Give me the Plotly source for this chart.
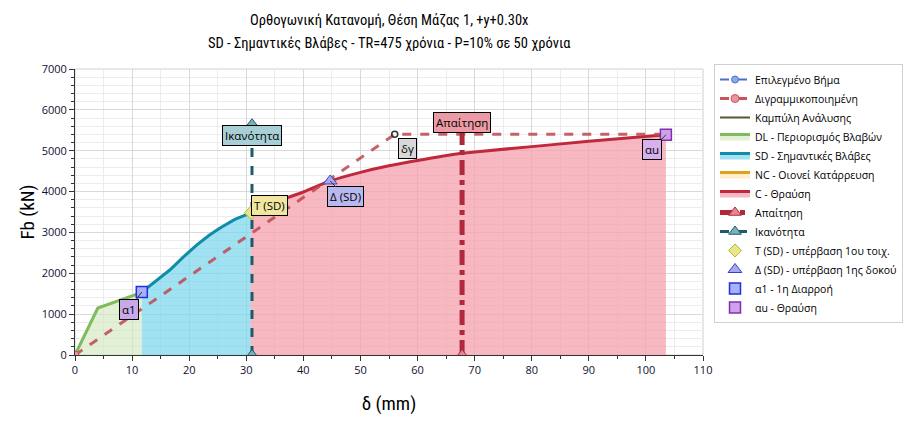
import plotly.graph_objects as go

# ---- data ----
dl_x = [0, 4.0, 10.5, 11.7]
dl_y = [0, 1150, 1470, 1540]
sd_x = [11.7, 14, 16.6, 19, 21.3, 23.5, 25.4, 28, 30.8]
sd_y = [1540, 1790, 2080, 2400, 2690, 2930, 3110, 3320, 3480]
c_x = [30.8, 35, 40, 44.7, 50, 55, 60, 67.4, 70, 80, 90, 103.5]
c_y = [3480, 3740, 3990, 4260, 4470, 4630, 4760, 4930, 4970, 5100, 5230, 5390]
bil_x = [0, 56.0, 103.5]
bil_y = [0, 5400, 5400]
cap_x = [31.0, 31.0]
cap_y = [0, 5650]
dem_x = [67.8, 67.8]
dem_y = [0, 5650]
t_pt = (30.8, 3480)
d_pt = (44.7, 4260)
a1_pt = (11.7, 1540)
au_pt = (103.5, 5390)
dy_pt = (56.0, 5400)

title_lines = ["Ορθογωνική Κατανομή, Θέση Μάζας 1, +y+0.30x",
               "SD - Σημαντικές Βλάβες - TR=475 χρόνια - P=10% σε 50 χρόνια"]

NARROW = "Roboto Condensed, DejaVu Sans Condensed, sans-serif"
FONT = "Open Sans"
fig = go.Figure()

fig.add_trace(go.Scatter(x=[None], y=[None], mode="lines+markers", name="Επιλεγμένο Βήμα",
                         line=dict(color="#4a6fd0", dash="dash", width=2),
                         marker=dict(symbol="circle", size=7, color="#8fa8ea", line=dict(color="#4a6fd0", width=1))))
fig.add_trace(go.Scatter(x=[None], y=[None], mode="lines+markers", name="Διγραμμικοποιημένη",
                         line=dict(color="#c8535d", dash="dash", width=3),
                         marker=dict(symbol="circle", size=8, color="#e9959b", line=dict(color="#c8535d", width=1))))
fig.add_trace(go.Scatter(x=[None], y=[None], mode="lines", name="Καμπύλη Ανάλυσης",
                         line=dict(color="#4e5a30", width=2)))
fig.add_trace(go.Scatter(x=dl_x, y=dl_y, mode="lines", name="DL - Περιορισμός Βλαβών", fill="tozeroy",
                         fillcolor="rgba(210,232,190,0.65)", line=dict(color="#7fbb5c", width=3)))
fig.add_trace(go.Scatter(x=sd_x, y=sd_y, mode="lines", name="SD - Σημαντικές Βλάβες", fill="tozeroy",
                         fillcolor="rgba(120,212,236,0.7)", line=dict(color="#0e8ca8", width=3)))
fig.add_trace(go.Scatter(x=[None], y=[None], mode="lines", name="NC - Οιονεί Κατάρρευση", fill="tozeroy",
                         fillcolor="rgba(253,232,190,0.8)", line=dict(color="#e0a020", width=3)))
fig.add_trace(go.Scatter(x=c_x, y=c_y, mode="lines", name="C - Θραύση", fill="tozeroy",
                         fillcolor="rgba(244,160,172,0.75)", line=dict(color="#c0283c", width=3, shape="spline")))
# bilinear drawn over fills
fig.add_trace(go.Scatter(x=bil_x, y=bil_y, mode="lines", showlegend=False,
                         line=dict(color="rgba(190,70,80,0.85)", dash="dash", width=3)))
fig.add_trace(go.Scatter(x=[bil_x[0]], y=[bil_y[0]], mode="markers", showlegend=False,
                         marker=dict(symbol="circle", size=8, color="#e9959b", line=dict(color="#c8535d", width=1))))
fig.add_trace(go.Scatter(x=dem_x, y=dem_y, mode="lines+markers", name="Απαίτηση",
                         line=dict(color="#b0283c", dash="dashdot", width=5),
                         marker=dict(symbol="triangle-up", size=11, color="#e98590", line=dict(color="#b0283c", width=1))))
fig.add_trace(go.Scatter(x=cap_x, y=cap_y, mode="lines+markers", name="Ικανότητα",
                         line=dict(color="#1d5a6a", dash="dash", width=3),
                         marker=dict(symbol="triangle-up", size=11, color="#7ab0b8", line=dict(color="#1d5a6a", width=1))))
fig.add_trace(go.Scatter(x=[t_pt[0]], y=[t_pt[1]], mode="markers", name="T (SD) - υπέρβαση 1ου τοιχ.",
                         marker=dict(symbol="diamond", size=10, color="#e6e68a", line=dict(color="#b8b830", width=1))))
fig.add_trace(go.Scatter(x=[d_pt[0]], y=[d_pt[1]], mode="markers", name="Δ (SD) - υπέρβαση 1ης δοκού",
                         marker=dict(symbol="triangle-up", size=12, color="#a8a8f0", line=dict(color="#4040c0", width=1))))
fig.add_trace(go.Scatter(x=[a1_pt[0]], y=[a1_pt[1]], mode="markers", name="α1 - 1η Διαρροή",
                         marker=dict(symbol="square", size=11, color="#a8b0f8", line=dict(color="#2030e0", width=1.5))))
fig.add_trace(go.Scatter(x=[au_pt[0]], y=[au_pt[1]], mode="markers", name="αu - Θραύση",
                         marker=dict(symbol="square", size=11, color="#d0a0e8", line=dict(color="#8030b0", width=1.5))))
fig.add_trace(go.Scatter(x=[dy_pt[0]], y=[dy_pt[1]], mode="markers", showlegend=False,
                         marker=dict(symbol="circle-open", size=6, color="#333333", line=dict(width=1.5))))


def label(x, y, text, bg, ax, ay, arrow=True, fc="#000000"):
    fig.add_annotation(x=x, y=y, xref="x", yref="y", text=text, showarrow=arrow,
                       arrowhead=0, arrowwidth=1, arrowcolor="#333333", ax=ax, ay=ay,
                       font=dict(family=FONT, size=11.5, color=fc), bgcolor=bg,
                       bordercolor="#000000", borderwidth=1, borderpad=2)

label(a1_pt[0], a1_pt[1], "α1", "#c8a8e8", -13, 17)
label(dy_pt[0], dy_pt[1], "δγ", "#d8d8d8", 13, 14)
label(au_pt[0], au_pt[1], "αu", "#d8b0ec", -14, 15)
label(d_pt[0], d_pt[1], "Δ (SD)", "#b8b8f0", 15, 16)
label(t_pt[0], t_pt[1], "T (SD)", "#f0e6a0", 19, -7)
label(cap_x[1], 5380, "Ικανότητα", "#a8cfd6", 0, 0, arrow=False)
label(dem_x[1], 5680, "Απαίτηση", "#ec9aa5", 0, 0, arrow=False)

# title as two lines of text in pixel positions above the plot
for i, (line, ypx) in enumerate(zip(title_lines, [20, 44])):
    fig.add_annotation(text=line, xref="paper", yref="paper", x=0.5,
                       y=1 + (69 - ypx) / 286, xanchor="center", yanchor="middle", showarrow=False,
                       font=dict(family=NARROW, size=14.5, color="#000000"))

fig.update_layout(
    width=919, height=425,
    margin=dict(l=75, r=216, t=69, b=70, autoexpand=False),
    paper_bgcolor="white", plot_bgcolor="white",
    font=dict(family=FONT, size=11, color="#000000"),
    legend=dict(x=(714 - 75) / 628, y=1 + 5 / 286, xanchor="left", yanchor="top", bordercolor="#d0d0d0", borderwidth=1,
                bgcolor="white", font=dict(family=FONT, size=10.5, color="#000000"),
                tracegroupgap=0, itemwidth=30, maxheight=340),
    showlegend=True,
)
fig.update_xaxes(range=[0, 110], dtick=10, tick0=0, showgrid=True, gridcolor="#d9d9d9", gridwidth=1,
                 minor=dict(dtick=5, showgrid=True, gridcolor="#ececec", ticks="outside", ticklen=3, tickcolor="#333"),
                 ticks="outside", ticklen=5, tickcolor="#333", showline=True, linecolor="#333", linewidth=1,
                 zeroline=False, tickfont=dict(size=11, color="#111133"), automargin=False,
                 title=dict(text="δ (mm)", font=dict(family=NARROW, size=19), standoff=20))
fig.update_yaxes(range=[0, 7000], dtick=1000, tick0=0, showgrid=True, gridcolor="#d9d9d9", gridwidth=1,
                 minor=dict(dtick=200, showgrid=True, gridcolor="#ececec", ticks="outside", ticklen=3, tickcolor="#333"),
                 ticks="outside", ticklen=5, tickcolor="#333", showline=True, linecolor="#333", linewidth=1,
                 zeroline=False, tickfont=dict(size=11, color="#111133"), automargin=False,
                 title=dict(text="Fb (kN)", font=dict(family=NARROW, size=19), standoff=1))
fig.add_shape(type="rect", xref="paper", yref="paper", x0=0, y0=0, x1=1, y1=1,
              line=dict(color="#d0d0d0", width=1), layer="below")

fig.write_html("out.html", config={"displayModeBar": False},
               post_script="document.body.style.margin='0px';")
